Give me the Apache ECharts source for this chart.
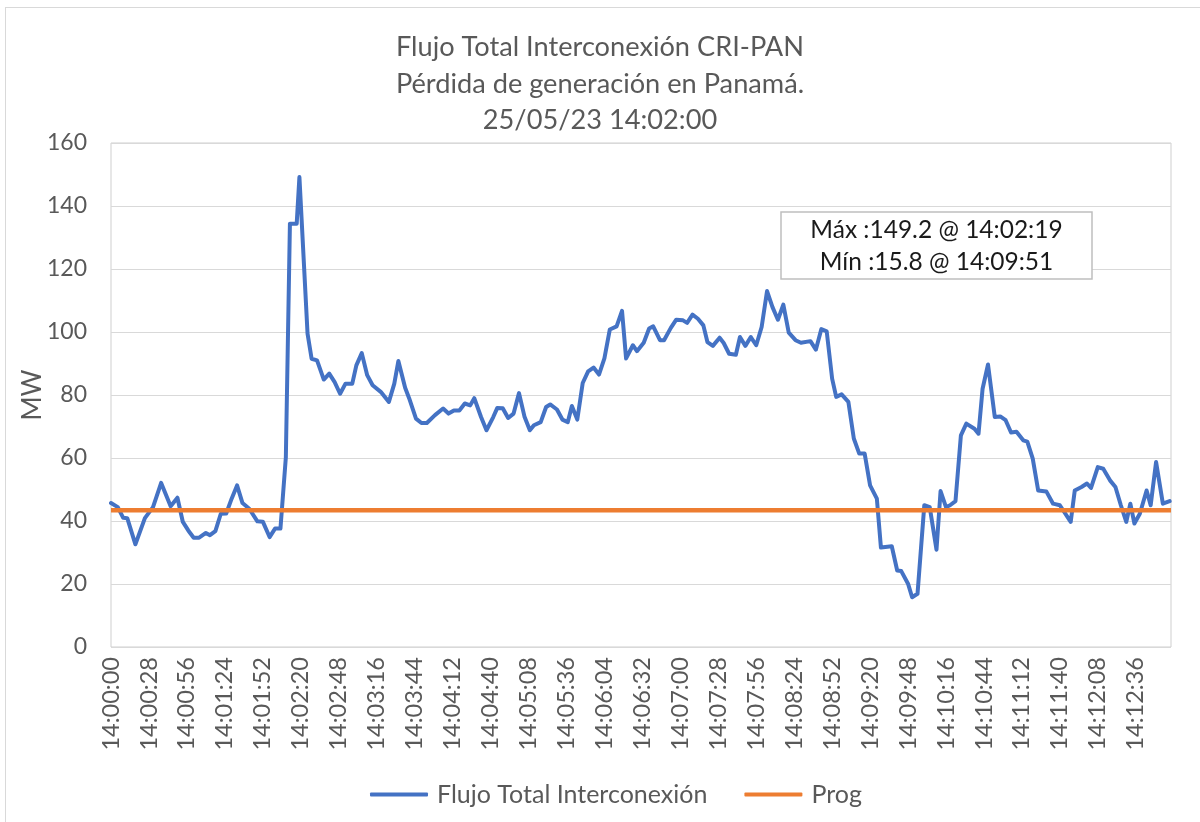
<!DOCTYPE html>
<html lang="es">
<head>
    <meta charset="UTF-8"/>
    <title>Flujo Total Interconexión CRI-PAN</title>
    <style>
        * {
            padding: 0;
            margin: 0;
        }

        body {
            width: 1200px;
            height: 822px;
            background: #fff;
            overflow: hidden;
            position: relative;
        }

        /* marco exterior del gráfico */
        .frame {
            position: absolute;
            left: 5px;
            top: 7px;
            width: 1200px;
            height: 820px;
            border: 1px solid #d9d9d9;
            pointer-events: none;
        }

        .chart {
            position: absolute;
            left: 0;
            top: 0;
            width: 1200px;
            height: 822px;
        }
    </style>
    <script src="https://cdn.jsdelivr.net/npm/echarts@6/dist/echarts.min.js"></script>
</head>
<body>
<div class="chart" id="chart"></div>
<div class="frame"></div>
<script>
    // segundos desde las 14:00:00
    const secs = [
        0, 5, 9, 12, 18, 25, 31, 37, 44, 49, 53, 57, 61, 65, 70, 73, 77, 81, 85, 89,
        93, 97, 102, 108, 112, 117, 121, 125, 129, 132, 137, 139, 145, 148, 152, 157, 161, 165, 169, 173,
        178, 181, 185, 189, 193, 199, 205, 209, 212, 217, 220, 225, 229, 233, 239, 245, 249, 253, 257, 261,
        265, 268, 273, 277, 282, 285, 289, 293, 297, 301, 305, 309, 312, 317, 321, 324, 329, 333, 337, 340,
        344, 348, 352, 356, 360, 364, 368, 373, 377, 380, 385, 388, 393, 397, 400, 405, 408, 413, 417, 422,
        425, 429, 433, 437, 440, 444, 449, 452, 456, 461, 464, 468, 472, 476, 480, 484, 488, 492, 496, 500,
        505, 509, 516, 520, 524, 528, 532, 535, 539, 544, 548, 552, 556, 560, 565, 568, 576, 580, 583, 588,
        591, 595, 600, 604, 609, 612, 616, 619, 623, 627, 631, 637, 640, 643, 647, 652, 656, 660, 664, 668,
        673, 676, 680, 684, 690, 695, 700, 708, 711, 716, 720, 723, 728, 732, 737, 741, 745, 749, 752, 755,
        759, 764, 767, 771, 776, 781
    ];

    // Flujo Total Interconexión (MW)
    const flujo = [
        45.7, 44.4, 41.0, 40.9, 32.6, 40.9, 44.4, 52.1, 44.7, 47.4, 39.7, 37.0, 34.7, 34.7, 36.2, 35.5, 36.8, 42.3, 42.4, 47.1,
        51.3, 45.7, 43.9, 39.9, 39.8, 34.9, 37.6, 37.6, 60.3, 134.4, 134.4, 149.2, 99.5, 91.5, 91.0, 84.9, 86.8, 84.1, 80.4, 83.6,
        83.6, 89.4, 93.3, 86.3, 83.1, 81.0, 77.8, 83.6, 90.8, 82.3, 78.9, 72.5, 71.1, 71.1, 73.6, 75.7, 74.1, 75.1, 75.1, 77.3,
        76.7, 79.0, 73.0, 68.8, 73.0, 75.9, 75.8, 72.7, 74.1, 80.6, 73.2, 68.8, 70.4, 71.4, 76.2, 77.0, 75.4, 72.2, 71.4, 76.5,
        72.2, 83.8, 87.5, 88.7, 86.5, 91.6, 100.8, 101.8, 106.7, 91.6, 95.8, 93.9, 96.6, 101.1, 101.8, 97.4, 97.4, 101.3, 103.9, 103.7,
        102.9, 105.5, 104.2, 102.1, 96.8, 95.6, 98.2, 96.5, 93.1, 92.8, 98.4, 95.6, 98.4, 95.8, 101.6, 113.0, 107.9, 103.9, 108.7, 99.8,
        97.4, 96.6, 97.1, 94.4, 100.9, 100.2, 85.2, 79.4, 80.2, 77.8, 66.2, 61.4, 61.4, 51.3, 47.1, 31.6, 32.0, 24.3, 24.1, 20.1,
        15.8, 16.9, 45.0, 44.4, 30.9, 49.5, 44.4, 45.0, 46.3, 67.2, 70.9, 69.3, 67.7, 82.0, 89.7, 73.0, 73.2, 72.0, 68.1, 68.3,
        65.6, 65.2, 59.8, 49.7, 49.4, 45.5, 45.0, 39.7, 49.7, 50.8, 51.9, 50.5, 57.1, 56.6, 52.9, 50.8, 45.0, 39.7, 45.5, 39.2,
        42.3, 49.7, 45.0, 58.7, 45.5, 46.3
    ];

    // programado (MW)
    const prog = 43.4;
    const endSec = 782;

    const titleLines = [
        "Flujo Total Interconexión CRI-PAN",
        "Pérdida de generación en Panamá.",
        "25/05/23 14:02:00"
    ];

    function hora(s) {
        const t = 14 * 3600 + s;
        const p = (n) => String(n).padStart(2, "0");
        return p(Math.floor(t / 3600)) + ":" + p(Math.floor((t % 3600) / 60)) + ":" + p(t % 60);
    }

    const iMax = flujo.indexOf(Math.max(...flujo));
    const iMin = flujo.indexOf(Math.min(...flujo));
    const boxText = "Máx :" + flujo[iMax].toFixed(1) + " @ " + hora(secs[iMax]) +
        "\nMín :" + flujo[iMin].toFixed(1) + " @ " + hora(secs[iMin]);

    const font = "Lato";
    const gray = "#595959";

    const myChart = echarts.init(document.getElementById("chart"), null, {renderer: "canvas"});

    const options = {
        animation: false,
        title: {
            text: titleLines.join("\n"),
            left: 595,
            top: 24,
            padding: 5,
            textAlign: "center",
            textStyle: {
                fontFamily: font,
                fontSize: 27.2,
                fontWeight: "normal",
                color: gray,
                lineHeight: 36.5
            }
        },
        legend: {
            left: 365,
            top: 777,
            itemWidth: 58,
            itemHeight: 4,
            itemGap: 37,
            icon: "roundRect",
            textStyle: {
                fontFamily: font,
                fontSize: 25,
                color: gray,
                padding: [0, 0, 0, 4]
            },
            data: ["Flujo Total Interconexión", "Prog"]
        },
        grid: {
            left: 111,
            top: 143,
            width: 1060,
            height: 504,
            show: true,
            borderColor: "#cfcfcf",
            borderWidth: 1
        },
        xAxis: {
            type: "value",
            min: 0,
            max: endSec,
            interval: 28,
            axisLine: {show: false},
            axisTick: {show: false},
            splitLine: {show: false},
            axisLabel: {
                rotate: 90,
                margin: 10,
                showMaxLabel: false,
                fontFamily: font,
                fontSize: 23.5,
                color: gray,
                formatter: (v) => (v % 28 === 0 ? hora(v) : "")
            }
        },
        yAxis: {
            type: "value",
            min: 0,
            max: 160,
            interval: 20,
            name: "MW",
            nameLocation: "middle",
            nameGap: 65,
            nameMoveOverlap: false,
            nameTextStyle: {
                fontFamily: font,
                fontSize: 26,
                color: gray
            },
            axisLine: {show: false},
            axisTick: {show: false},
            splitLine: {lineStyle: {color: "#d9d9d9", width: 1}},
            axisLabel: {
                margin: 24,
                fontFamily: font,
                fontSize: 23,
                color: gray
            }
        },
        graphic: [
            {
                type: "rect",
                x: 781,
                y: 212,
                shape: {x: 0, y: 0, width: 311, height: 67},
                style: {fill: "#fff", stroke: "#bfbfbf", lineWidth: 1.5},
                z: 100
            },
            {
                type: "text",
                x: 936.5,
                y: 214,
                style: {
                    text: boxText,
                    fontFamily: font,
                    fontSize: 24.5,
                    lineHeight: 32,
                    fill: "#1a1a1a",
                    align: "center",
                    verticalAlign: "top"
                },
                z: 101
            }
        ],
        series: [
            {
                name: "Flujo Total Interconexión",
                type: "line",
                symbol: "none",
                color: "#4472C4",
                lineStyle: {width: 4, color: "#4472C4", join: "round", cap: "round"},
                data: secs.map((s, i) => [s, flujo[i]])
            },
            {
                name: "Prog",
                type: "line",
                symbol: "none",
                color: "#ED7D31",
                lineStyle: {width: 4.5, color: "#ED7D31"},
                data: [[0, prog], [endSec, prog]]
            }
        ]
    };

    myChart.setOption(options);
</script>
</body>
</html>
